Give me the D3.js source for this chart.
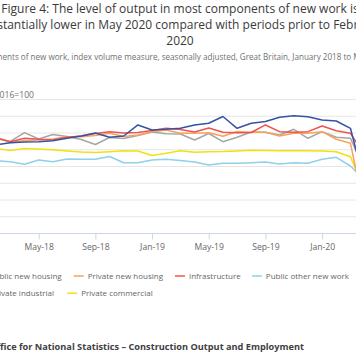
<!DOCTYPE html>
<html><head><meta charset="utf-8">
<script src="https://cdn.jsdelivr.net/npm/d3@7"></script>
<style>
body{margin:0;overflow:hidden;background:#fff}
svg{display:block;font-family:"Open Sans",sans-serif}
</style>
</head><body>
<svg id="c" width="356" height="364"></svg>
<script>
const months = ["Jan-18","Feb-18","Mar-18","Apr-18","May-18","Jun-18","Jul-18","Aug-18","Sep-18","Oct-18","Nov-18","Dec-18",
  "Jan-19","Feb-19","Mar-19","Apr-19","May-19","Jun-19","Jul-19","Aug-19","Sep-19","Oct-19","Nov-19","Dec-19",
  "Jan-20","Feb-20","Mar-20","Apr-20","May-20"];
const xTickLabels = ["Jan-18","May-18","Sep-18","Jan-19","May-19","Sep-19","Jan-20","May-20"];
const yTicks = [0,20,40,60,80,100,120,140,160];

const seriesNames = ["Public new housing","Private new housing","Infrastructure","Public other new work","Private industrial","Private commercial"];
const seriesColors = ["#3553a4","#f7a35c","#ef5350","#8fd0ea","#a6a6a6","#f2e015"];

const publicNewHousing = [104.5,105.7,108.4,109.3,109.6,110.8,113.7,116.4,120.0,114.9,116.4,129.6,123.6,124.4,125.6,129.6,131.6,139.7,125.6,131.6,133.7,138.7,140.7,139.5,135.5,134.3,125.6,60.3,69.9];
const privateNewHousing = [117.6,115.2,108.7,111.0,111.6,112.8,115.6,115.6,117.0,119.6,115.8,117.6,121.6,123.6,119.6,119.6,120.4,116.1,121.8,120.8,120.8,116.4,119.6,119.6,121.6,112.5,107.7,26.9,46.0];
const infrastructure = [116.4,114.0,109.6,113.7,112.5,111.6,114.9,116.4,119.4,121.6,120.0,120.6,123.0,125.6,124.2,121.2,126.0,120.8,120.4,120.6,129.6,121.6,120.8,121.6,128.4,122.7,119.6,93.7,99.7];
const publicOtherNewWork = [87.8,86.9,85.7,82.6,87.8,85.7,89.0,88.6,88.6,91.9,84.5,84.5,87.8,88.6,87.2,85.4,81.8,83.8,83.8,84.5,85.4,83.0,84.5,83.8,88.6,91.0,80.6,63.9,69.9];
const privateIndustrial = [116.4,113.7,109.9,120.4,112.8,118.2,115.8,112.2,106.3,114.6,113.4,117.0,121.2,119.0,118.8,111.6,119.4,109.6,114.9,121.2,120.8,117.6,124.4,113.7,121.6,114.9,113.7,75.8,87.8];
const privateCommercial = [102.1,101.7,99.1,101.5,100.9,99.9,98.5,97.3,96.7,97.7,98.9,98.5,93.1,95.8,98.9,97.0,97.7,97.9,98.5,99.3,99.1,98.9,98.9,98.9,98.5,97.7,91.7,52.2,63.9];

const seriesValues = [publicNewHousing, privateNewHousing, infrastructure, publicOtherNewWork, privateIndustrial, privateCommercial];
const drawOrder = [4,5,3,1,2,0];

const svg = d3.select("#c");
const x = d3.scalePoint().domain(months).range([-18, 378.8]);
const y = d3.scaleLinear().domain([0,160]).range([233.5, 99.5]);

// title
const title = svg.append("text").attr("text-anchor","middle").attr("fill","#3a3a3b").style("font-size","12px");
[["Figure 4: The level of output in most components of new work is",13.3],
 ["substantially lower in May 2020 compared with periods prior to February",29],
 ["2020",44.5]].forEach(([t,yy]) => title.append("tspan").attr("x",180).attr("y",yy).text(t));

svg.append("text").attr("x",180).attr("y",59.5).attr("text-anchor","middle").attr("fill","#707070").style("font-size","8.1px")
  .text("Components of new work, index volume measure, seasonally adjusted, Great Britain, January 2018 to May 2020");

svg.append("text").attr("x",34).attr("y",97.5).attr("text-anchor","end").attr("fill","#707070").style("font-size","8.6px")
  .text("Index 2016=100");

// gridlines
svg.append("g").selectAll("line").data(yTicks.filter(d=>d>0)).join("line")
  .attr("x1",-30).attr("x2",400).attr("y1",d=>y(d)).attr("y2",d=>y(d))
  .attr("stroke","#e6e6e6").attr("stroke-width",1);

// x axis
const xAxis = d3.axisBottom(x).tickValues(xTickLabels).tickSize(6).tickPadding(4);
const gx = svg.append("g").attr("transform",`translate(0,${y(0)})`).call(xAxis);
gx.select(".domain").attr("stroke","#ccd6eb").attr("d","M-30,0H400");
gx.selectAll(".tick line").attr("stroke","#ccd6eb");
gx.selectAll(".tick text").attr("fill","#666").style("font-size","8.6px").style("font-family","'Open Sans',sans-serif");

// lines
const line = d3.line().x((d,i)=>x(months[i])).y(d=>y(d));
svg.append("g").selectAll("path").data(drawOrder).join("path")
  .attr("d",k=>line(seriesValues[k])).attr("fill","none")
  .attr("stroke",k=>seriesColors[k]).attr("stroke-width",1.5).attr("stroke-linejoin","round");

// legend
const legendRows = [[0,1,2,3],[4,5]];
const legendEnds = [[61.7,163,240.7,349],[54,152.7]];
const lg = svg.append("g").style("font-size","8px");
legendRows.forEach((row,r) => {
  const yy = 276 + r*17.3;
  row.forEach((k,j) => {
    const t = lg.append("text").attr("x",legendEnds[r][j]).attr("y",yy+3).attr("text-anchor","end").attr("fill","#666").text(seriesNames[k]);
    const w = t.node().getComputedTextLength();
    const sx = legendEnds[r][j] - w - 4;
    lg.append("line").attr("x1",sx-10).attr("x2",sx).attr("y1",yy).attr("y2",yy).attr("stroke",seriesColors[k]).attr("stroke-width",1.5);
  });
});

svg.append("text").attr("x",304).attr("y",349.5).attr("text-anchor","end").attr("fill","#414042")
  .style("font-size","9.2px").style("font-weight","bold")
  .text("Source: Office for National Statistics \u2013 Construction Output and Employment");
</script>
</body></html>
